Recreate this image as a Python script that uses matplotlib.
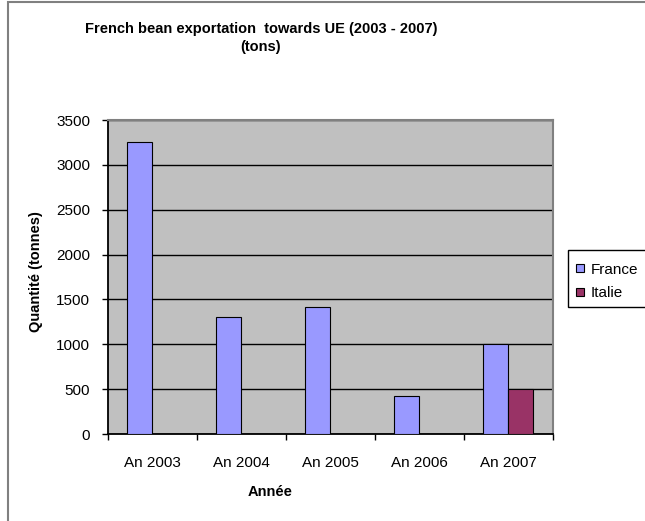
import numpy as np
import matplotlib
matplotlib.use('Agg')
import matplotlib.pyplot as plt
from matplotlib.patches import Rectangle
from matplotlib.lines import Line2D

plt.rcParams['font.family'] = ['Liberation Sans', 'DejaVu Sans']

years = ['An 2003', 'An 2004', 'An 2005', 'An 2006', 'An 2007']
france = [3250, 1300, 1415, 425, 1000]
italie = [0, 0, 0, 0, 500]
series_names = ['France', 'Italie']
colors = ['#9999FF', '#993366']

W, H = 645, 521
fig = plt.figure(figsize=(W / 100, H / 100), dpi=100)

def px(x, y):
    # pixel (from top-left) -> figure fraction
    return x / W, 1 - y / H

# outer chart frame (cropped on right and bottom like the reference)
fig.patches.append(Rectangle(px(7.5, 600), 700 / W, 598.5 / H,
                             transform=fig.transFigure, fill=False,
                             edgecolor='#808080', linewidth=1.5,
                             clip_on=False))

left, top = 107.7, 120
right, bottom = 552.5, 434
ax = fig.add_axes([left / W, 1 - bottom / H, (right - left) / W,
                   (bottom - top) / H])
ax.set_facecolor('#C0C0C0')

x = np.arange(len(years))
w = 0.286
ax.bar(x - w / 2, france, w, color=colors[0], edgecolor='black',
       linewidth=0.8, zorder=3)
ax.bar(x + w / 2, italie, w, color=colors[1], edgecolor='black',
       linewidth=0.8, zorder=3)

ax.set_xlim(-0.5, 4.5)
ax.set_ylim(0, 3500)
ax.set_yticks(np.arange(0, 3501, 500))
ax.yaxis.grid(True, color='black', linewidth=1.0, zorder=1)
ax.set_axisbelow(True)

ax.set_xticks(x)
ax.set_xticklabels(years, fontsize=11)
ax.set_xticks(np.arange(-0.5, 4.6, 1), minor=True)
ax.tick_params(axis='x', which='major', length=0, pad=16)
ax.tick_params(axis='x', which='minor', length=4.5, width=1, direction='out')
ax.tick_params(axis='y', length=4.5, width=1, direction='out', pad=8,
               labelsize=11)

for s in ['left', 'bottom']:
    ax.spines[s].set_color('black')
    ax.spines[s].set_linewidth(1.3)
for s in ['top', 'right']:
    ax.spines[s].set_color('#808080')
    ax.spines[s].set_linewidth(1.5)

fig.text(*px(261, 38), 'French bean exportation  towards UE (2003 - 2007)\n(tons)',
         ha='center', va='center', fontsize=10.5, fontweight='bold',
         linespacing=1.4)
fig.text(*px(270, 492), 'Année', ha='center', va='center', fontsize=10.5,
         fontweight='bold')
fig.text(*px(36, 272), 'Quantité (tonnes)', ha='center', va='center',
         rotation=90, fontsize=10.5, fontweight='bold')

# legend box (runs past the right edge as in the reference)
fig.patches.append(Rectangle(px(568, 307), 100 / W, 57 / H,
                             transform=fig.transFigure, facecolor='white',
                             edgecolor='black', linewidth=1.0,
                             clip_on=False))
handles = [Line2D([], [], marker='s', linestyle='none', markersize=6,
                  markerfacecolor=c, markeredgecolor='black',
                  markeredgewidth=0.8) for c in colors]
fig.legend(handles, series_names, loc='upper left',
           bbox_to_anchor=px(563, 252), frameon=False, fontsize=11,
           handlelength=0.8, handletextpad=0.3, labelspacing=0.6,
           borderpad=0.2)

fig.savefig('out.png', dpi=100)
